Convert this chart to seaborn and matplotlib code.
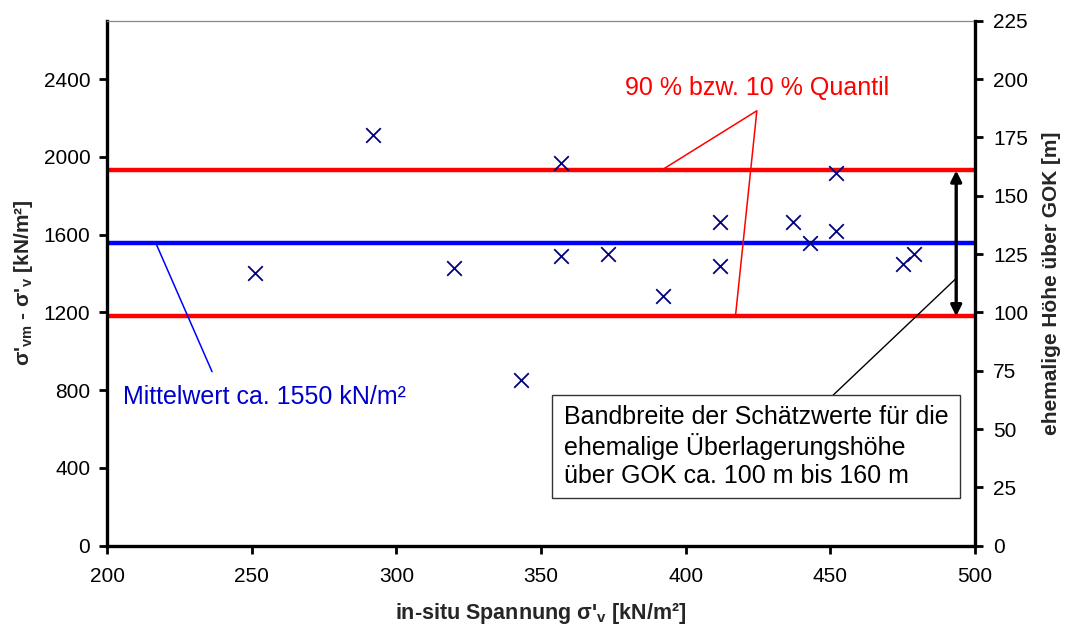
import matplotlib
matplotlib.use("Agg")
import matplotlib.pyplot as plt
import seaborn as sns
import pandas as pd
from matplotlib.patches import Rectangle

# Measured values
sigma_v = [251, 292, 320, 343, 357, 357, 373, 392, 412, 412, 437, 443, 452, 452, 475, 479]
sigma_diff = [1401, 2112, 1426, 852, 1966, 1490, 1500, 1284, 1666, 1440, 1666, 1558, 1918, 1620, 1449, 1500]

mean_value = 1555
q90_value = 1930
q10_value = 1180

x_ticks = [200, 250, 300, 350, 400, 450, 500]
y_ticks = [0, 400, 800, 1200, 1600, 2000, 2400]
height_ticks = [0, 25, 50, 75, 100, 125, 150, 175, 200, 225]
y_max = 2700
height_max = 225

label_mean = "Mittelwert ca. 1550 kN/m²"
label_quantile = "90 % bzw. 10 % Quantil"
label_band = "Bandbreite der Schätzwerte für die\nehemalige Überlagerungshöhe\nüber GOK ca. 100 m bis 160 m"

sns.set_style("white")
plt.rcParams["font.family"] = ["Liberation Sans", "DejaVu Sans"]
plt.rcParams["mathtext.fontset"] = "custom"
plt.rcParams["mathtext.rm"] = "Liberation Sans:bold"
plt.rcParams["mathtext.it"] = "Liberation Sans:bold"
plt.rcParams["mathtext.bf"] = "Liberation Sans:bold"

df = pd.DataFrame({"sv": sigma_v, "diff": sigma_diff})

fig = plt.figure(figsize=(10.65, 6.28), dpi=100)
ax = fig.add_axes([0.1005, 0.131, 0.815, 0.836])

# quantile and mean lines
ax.axhline(q90_value, color="#FF0000", lw=3.2, zorder=2)
ax.axhline(q10_value, color="#FF0000", lw=3.2, zorder=2)
ax.axhline(mean_value, color="#0000FF", lw=3.2, zorder=2)

sns.scatterplot(data=df, x="sv", y="diff", marker="x", color="#000080",
                s=110, linewidth=1.3, ax=ax, zorder=3, legend=False)

ax.set_xlim(x_ticks[0], x_ticks[-1])
ax.set_ylim(0, y_max)
ax.set_xticks(x_ticks)
ax.set_yticks(y_ticks)

ax2 = ax.twinx()
ax2.set_ylim(0, height_max)
ax2.set_yticks(height_ticks)

for a in (ax, ax2):
    for side in ("left", "right", "bottom", "top"):
        a.spines[side].set_visible(False)
ax.spines["left"].set_visible(True)
ax.spines["left"].set_linewidth(2.4)
ax.spines["left"].set_color("black")
ax.spines["bottom"].set_visible(True)
ax.spines["bottom"].set_linewidth(2.4)
ax.spines["bottom"].set_color("black")
ax.spines["top"].set_visible(True)
ax.spines["top"].set_linewidth(0.9)
ax.spines["top"].set_color("#888888")
ax2.spines["right"].set_visible(True)
ax2.spines["right"].set_linewidth(2.4)
ax2.spines["right"].set_color("black")

ax.tick_params(axis="both", which="major", direction="out", length=6, width=2,
               labelsize=15, color="black", labelcolor="black")
ax.tick_params(axis="y", pad=6, left=True)
ax.tick_params(axis="x", pad=9, bottom=True)
ax2.tick_params(axis="y", direction="out", length=6, width=2, labelsize=15,
                pad=7, right=True, color="black", labelcolor="black")

ax.set_xlabel("in-situ Spannung σ'$_{\\mathrm{v}}$ [kN/m²]", fontsize=15.5,
              fontweight="bold", labelpad=11)
ax.set_ylabel("σ'$_{\\mathrm{vm}}$ - σ'$_{\\mathrm{v}}$ [kN/m²]", fontsize=15,
              fontweight="bold", labelpad=6)
ax2.set_ylabel("ehemalige Höhe über GOK [m]", fontsize=15, fontweight="bold",
               labelpad=10)

# quantile label with leader lines
ax.text(424.6, 2354, label_quantile, color="#FF0000", fontsize=18,
        ha="center", va="center")
ax.plot([391.5, 424.6, 417.2], [q90_value, 2237, q10_value], color="#FF0000",
        lw=1.1, zorder=2)

# mean label with leader line
ax.text(205.4, 766, label_mean, color="#0000CC", fontsize=18,
        ha="left", va="center")
ax.plot([216.9, 236.3], [mean_value, 895], color="#0000FF", lw=1.1, zorder=2)

# range of estimated overburden height
ax.annotate("", xy=(493.5, q90_value), xytext=(493.5, q10_value),
            arrowprops=dict(arrowstyle="<|-|>", color="black", lw=2.4,
                            mutation_scale=16, shrinkA=0, shrinkB=0),
            zorder=4)
ax.plot([493.5, 451.0], [1375, 775], color="black", lw=1.0, zorder=2)
ax.add_patch(Rectangle((353.9, 247), 141.0, 528, facecolor="white",
                       edgecolor="#333333", lw=1.0, zorder=5))
ax.text(357.8, 511, label_band, color="black", fontsize=18, ha="left",
        va="center", linespacing=1.2, zorder=6)

fig.savefig("out.png", dpi=100)
